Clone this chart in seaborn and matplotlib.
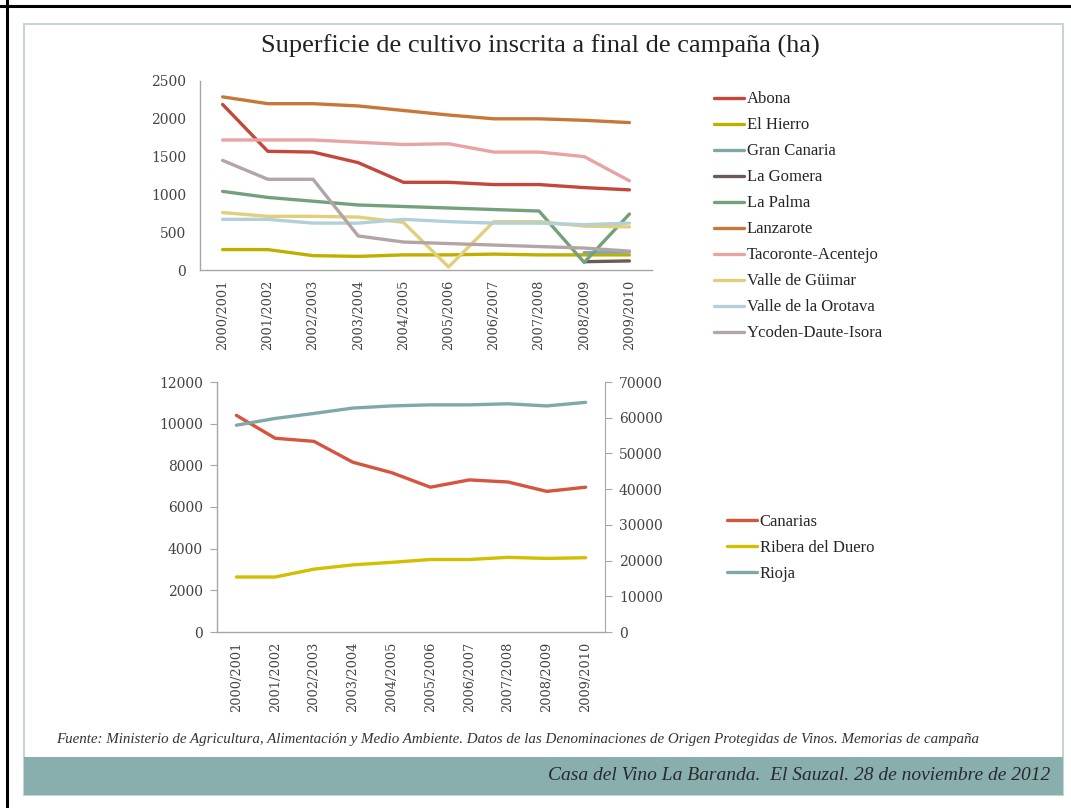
import numpy as np
import pandas as pd
import matplotlib
matplotlib.use("Agg")
import matplotlib.pyplot as plt
from matplotlib.patches import Rectangle
from matplotlib.lines import Line2D
import seaborn as sns

campanas = ["2000/2001", "2001/2002", "2002/2003", "2003/2004", "2004/2005",
            "2005/2006", "2006/2007", "2007/2008", "2008/2009", "2009/2010"]

# superficie inscrita (ha) por denominacion de origen canaria
abona = [2190, 1570, 1560, 1420, 1160, 1160, 1130, 1130, 1090, 1060]
el_hierro = [270, 270, 190, 180, 200, 200, 210, 200, 200, 200]
gran_canaria = [np.nan] * 8 + [230, 240]
la_gomera = [np.nan] * 8 + [110, 120]
la_palma = [1040, 960, 910, 860, 840, 820, 800, 780, 100, 740]
lanzarote = [2290, 2200, 2200, 2170, 2110, 2050, 2000, 2000, 1980, 1950]
tacoronte = [1720, 1720, 1720, 1690, 1660, 1670, 1560, 1560, 1500, 1180]
valle_guimar = [760, 710, 710, 700, 630, 40, 640, 640, 580, 570]
valle_orotava = [670, 670, 620, 620, 670, 640, 620, 620, 600, 620]
ycoden = [1450, 1200, 1200, 450, 370, 350, 330, 310, 290, 250]

zonas = ["Abona", "El Hierro", "Gran Canaria", "La Gomera", "La Palma", "Lanzarote",
         "Tacoronte-Acentejo", "Valle de Güimar", "Valle de la Orotava", "Ycoden-Daute-Isora"]
series_top = [abona, el_hierro, gran_canaria, la_gomera, la_palma, lanzarote,
              tacoronte, valle_guimar, valle_orotava, ycoden]
colores_top = ["#c4473c", "#bfb000", "#7fa8a8", "#6b5a55", "#74a07c", "#c8773a",
               "#e8a3a3", "#e2cf7c", "#b2d0d8", "#b3a5a6"]

# comparativa con otras DO
canarias = [10400, 9300, 9150, 8150, 7650, 6950, 7300, 7200, 6750, 6950]
ribera = [15400, 15400, 17600, 18800, 19500, 20300, 20300, 20900, 20600, 20800]
rioja = [57900, 59800, 61200, 62700, 63300, 63600, 63600, 63900, 63300, 64300]

df_top = pd.concat([pd.DataFrame({"campana": campanas, "zona": z, "ha": v})
                    for z, v in zip(zonas, series_top)], ignore_index=True)
df_can = pd.DataFrame({"campana": campanas, "zona": "Canarias", "ha": canarias})
df_esp = pd.concat([pd.DataFrame({"campana": campanas, "zona": "Ribera del Duero", "ha": ribera}),
                    pd.DataFrame({"campana": campanas, "zona": "Rioja", "ha": rioja})],
                   ignore_index=True)

sns.set_style("white")
serif = "Liberation Serif"
plt.rcParams["font.family"] = [serif, "DejaVu Serif"]
num_font = "DejaVu Serif"

W, H = 1071, 808
fig = plt.figure(figsize=(W / 100, H / 100), dpi=100)

def fx(px):
    return px / W

def fy(py):
    return 1 - py / H

# marco de la diapositiva
fig.add_artist(Line2D([0, 1], [fy(6), fy(6)], color="black", lw=2.2))
fig.add_artist(Line2D([fx(7), fx(7)], [0, 1], color="black", lw=2.2))
fig.add_artist(Rectangle((fx(24), fy(795)), fx(1063) - fx(24), fy(24) - fy(795),
                         fill=False, ec="#c9d3d3", lw=1.5))
fig.add_artist(Rectangle((fx(24), fy(795)), fx(1063) - fx(24), fy(757) - fy(795),
                         fc="#88aeae", ec="none"))

fig.text(fx(540), fy(46), "Superficie de cultivo inscrita a final de campaña (ha)",
         ha="center", va="center", fontsize=19, color="#222222")

grey = "#a6a6a6"
tick_col = "#444444"


def style_axes(ax):
    for s in ["top", "right"]:
        ax.spines[s].set_visible(False)
    for s in ["left", "bottom"]:
        ax.spines[s].set_color(grey)
        ax.spines[s].set_linewidth(1)
    ax.set_xlim(-0.5, len(campanas) - 0.5)
    ax.set_xticks(range(len(campanas)))
    ax.set_xticklabels(campanas, rotation=90, fontsize=9.3, color=tick_col,
                       family=num_font)
    ax.set_xticks(np.arange(-0.5, len(campanas)), minor=True)
    ax.tick_params(axis="x", which="major", length=0, pad=7)
    ax.tick_params(axis="x", which="minor", length=5, color=grey, direction="out")
    ax.tick_params(axis="y", length=5, color=grey, direction="out", labelsize=10,
                   labelcolor=tick_col, pad=5)
    for t in ax.get_yticklabels():
        t.set_family(num_font)
    ax.set_xlabel("")
    ax.set_ylabel("")


# grafico superior
ax1 = fig.add_axes([fx(200), fy(270), fx(652) - fx(200), fy(81) - fy(270)])
sns.lineplot(data=df_top, x="campana", y="ha", hue="zona", hue_order=zonas,
             palette=colores_top, linewidth=2.4, sort=False, legend=False, ax=ax1)
ax1.set_ylim(0, 2500)
ax1.set_yticks([0, 500, 1000, 1500, 2000, 2500])
style_axes(ax1)
fig.legend(ax1.get_lines()[:len(zonas)], zonas, loc="upper left",
           bbox_to_anchor=(fx(706), fy(83)), frameon=False, fontsize=12,
           handlelength=1.8, handletextpad=0.15, labelspacing=0.6, borderpad=0)

# grafico inferior con doble eje
ax2 = fig.add_axes([fx(217), fy(632), fx(605) - fx(217), fy(382) - fy(632)])
ax3 = ax2.twinx()
sns.lineplot(data=df_can, x="campana", y="ha", color="#d6553f", linewidth=2.4,
             sort=False, legend=False, ax=ax2)
sns.lineplot(data=df_esp, x="campana", y="ha", hue="zona",
             palette=["#d2bf00", "#7ea9aa"], linewidth=2.4, sort=False, legend=False, ax=ax3)
ax2.set_ylim(0, 12000)
ax2.set_yticks(range(0, 12001, 2000))
ax3.set_ylim(0, 70000)
ax3.set_yticks(range(0, 70001, 10000))
style_axes(ax2)
for s in ["top", "left", "bottom"]:
    ax3.spines[s].set_visible(False)
ax3.spines["right"].set_color(grey)
ax3.tick_params(axis="y", length=5, color=grey, direction="out", labelsize=10,
                labelcolor=tick_col, pad=5)
for t in ax3.get_yticklabels():
    t.set_family(num_font)
ax3.set_ylabel("")
handles = [ax2.get_lines()[0]] + ax3.get_lines()[:2]
fig.legend(handles, ["Canarias", "Ribera del Duero", "Rioja"], loc="upper left",
           bbox_to_anchor=(fx(719), fy(506)), frameon=False, fontsize=12,
           handlelength=1.8, handletextpad=0.15, labelspacing=0.6, borderpad=0)

fig.text(fx(518), fy(740),
         "Fuente: Ministerio de Agricultura, Alimentación y Medio Ambiente. Datos de las "
         "Denominaciones de Origen Protegidas de Vinos. Memorias de campaña",
         ha="center", va="center", fontsize=10.8, style="italic", color="#333333")
fig.text(fx(1050), fy(776), "Casa del Vino La Baranda.  El Sauzal. 28 de noviembre de 2012",
         ha="right", va="center", fontsize=14, style="italic", color="#2a2a2a")

fig.savefig("out.png", dpi=100)
